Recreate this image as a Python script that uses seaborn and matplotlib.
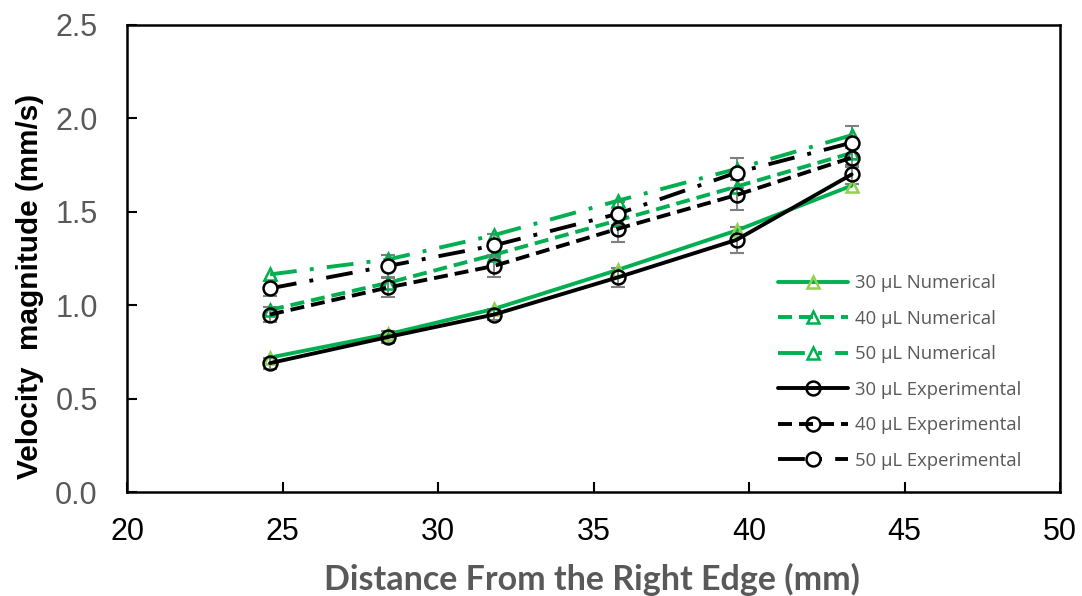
import matplotlib
matplotlib.use("Agg")
import matplotlib.pyplot as plt
import seaborn as sns
import pandas as pd
import numpy as np

distance = [24.6, 28.4, 31.8, 35.8, 39.6, 43.3]
num_30 = [0.72, 0.845, 0.98, 1.19, 1.40, 1.64]
num_40 = [0.975, 1.12, 1.27, 1.455, 1.635, 1.815]
num_50 = [1.165, 1.245, 1.375, 1.56, 1.73, 1.91]
exp_30 = [0.69, 0.83, 0.95, 1.15, 1.35, 1.70]
exp_40 = [0.95, 1.095, 1.21, 1.41, 1.59, 1.79]
exp_50 = [1.09, 1.21, 1.32, 1.49, 1.71, 1.87]
err_30 = [0.03, 0.03, 0.03, 0.05, 0.07, 0.05]
err_40 = [0.04, 0.05, 0.06, 0.07, 0.08, 0.05]
err_50 = [0.04, 0.06, 0.06, 0.06, 0.08, 0.09]
labels = ["30 µL Numerical", "40 µL Numerical", "50 µL Numerical",
          "30 µL Experimental", "40 µL Experimental", "50 µL Experimental"]

sns.set_theme(style="white")
plt.rcParams['font.family'] = ['Liberation Sans', 'DejaVu Sans']

GREEN = "#00B050"
LGREEN = "#92D050"
GRAY = "#595959"

rows = []
for lab, vals in zip(labels, [num_30, num_40, num_50, exp_30, exp_40, exp_50]):
    for x, v in zip(distance, vals):
        rows.append({"Distance": x, "Velocity": v, "Series": lab})
df = pd.DataFrame(rows)

fig = plt.figure(figsize=(10.82, 5.96), dpi=100)
ax = fig.add_axes([127/1082, 1-492/596, (1060-127)/1082, (492-25)/596])

lw = 2.8
dash = (0, (3.6, 1.8))
dashdot = (0, (6.9, 3.4, 1.0, 3.4))

styles = {
    labels[0]: dict(color=GREEN, ls='-', marker='^', mfc='none', mec=LGREEN, ms=8, mew=1.8),
    labels[1]: dict(color=GREEN, ls=dash, marker='^', mfc='none', mec=GREEN, ms=8, mew=1.8),
    labels[2]: dict(color=GREEN, ls=dashdot, marker='^', mfc='none', mec=GREEN, ms=9, mew=1.8),
    labels[3]: dict(color='black', ls='-', marker='o', mfc='none', mec='black', ms=10, mew=1.8),
    labels[4]: dict(color='black', ls=dash, marker='o', mfc='none', mec='black', ms=10, mew=1.8),
    labels[5]: dict(color='black', ls=dashdot, marker='o', mfc='white', mec='black', ms=10, mew=1.8),
}

# error bars for experimental data
for vals, err in [(exp_30, err_30), (exp_40, err_40), (exp_50, err_50)]:
    ax.errorbar(distance, vals, yerr=err, fmt='none', ecolor='#7F7F7F',
                elinewidth=1.3, capsize=5, capthick=1.5, zorder=2)

for i, lab in enumerate(labels):
    st = styles[lab]
    sub = df[df["Series"] == lab]
    sns.lineplot(data=sub, x="Distance", y="Velocity", ax=ax, label=lab,
                 color=st['color'], linestyle=st['ls'], linewidth=lw,
                 marker=st['marker'], markerfacecolor=st['mfc'],
                 markeredgecolor=st['mec'], markersize=st['ms'],
                 markeredgewidth=st['mew'], zorder=3 + (i >= 3))

ax.set_xlim(20, 50)
ax.set_ylim(0, 2.5)
ax.set_xticks([20, 25, 30, 35, 40, 45, 50])
ax.set_yticks([0.0, 0.5, 1.0, 1.5, 2.0, 2.5])
ax.set_yticklabels(["0.0", "0.5", "1.0", "1.5", "2.0", "2.5"])
ax.tick_params(axis='x', direction='in', length=7, width=1.5, colors='black',
               labelsize=22, pad=18, bottom=True)
ax.tick_params(axis='y', direction='in', length=7, width=1.5, labelcolor=GRAY,
               color='black', labelsize=22, pad=21, left=True)
for sp in ax.spines.values():
    sp.set_color('black')
    sp.set_linewidth(1.8)

ax.set_xlabel("Distance From the Right Edge (mm)", fontsize=24.5, fontweight='bold',
              color=GRAY, family=['Lato', 'DejaVu Sans'])
ax.xaxis.label.set_va('baseline')
ax.xaxis.set_label_coords((592-127)/933, (492-590)/467)
ax.set_ylabel("Velocity  magnitude (mm/s)", fontsize=21.4, fontweight='bold',
              color='black')
ax.yaxis.label.set_va('center')
ax.yaxis.set_label_coords((30-127)/933, (492-286)/467)

leg = ax.legend(loc='center left', bbox_to_anchor=(778/1082, 1-372/596),
                bbox_transform=fig.transFigure, frameon=False,
                labelspacing=0.95, handlelength=3.8, handletextpad=0.38,
                borderpad=0, borderaxespad=0,
                prop={'family': ['Open Sans', 'DejaVu Sans'], 'size': 13.3})
for t in leg.get_texts():
    t.set_color(GRAY)

fig.savefig("out.png", dpi=100)
